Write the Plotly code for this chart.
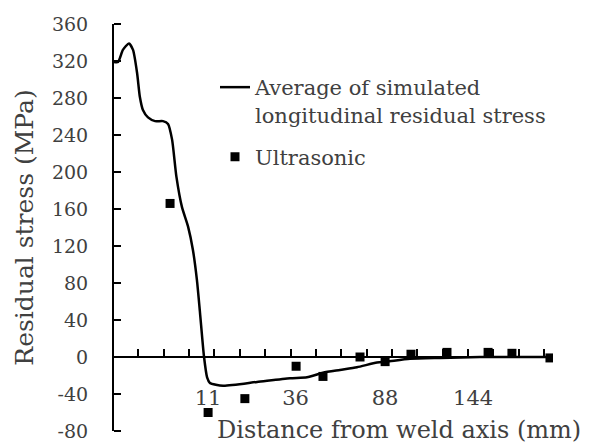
import plotly.graph_objects as go

# Simulated curve (x in axis-position units, y in MPa)
sim_x = [0.04, 0.2, 0.39, 0.63, 0.79, 0.95, 1.06, 1.18, 1.38, 1.66, 1.97, 2.17,
         2.33, 2.5, 2.72, 2.96, 3.15, 3.31, 3.43, 3.59, 3.71, 3.82, 4.34, 5.68,
         6.98, 7.65, 8.28, 8.95, 9.62, 10.41, 10.80, 11.71, 12.89, 14.47, 17.23]
sim_y = [319, 319, 332, 339, 332, 307, 281, 267, 259, 255, 255, 252,
         235, 195, 162, 141, 116, 83, 48, 0, -22, -28, -31, -27,
         -23, -22, -17, -14, -11, -6, -5, -2, -1, 0, 0]

# Ultrasonic measurements
ut_x = [2.25, 3.75, 5.2, 7.22, 8.28, 9.74, 10.73, 11.75, 13.17, 14.79, 15.73, 17.23]
ut_y = [166, -60, -45, -10, -21, 0, -5, 3, 5, 5, 4, -1]

# x tick labels (distance, mm) and their positions
x_label_pos = [3.75, 7.2, 10.73, 14.2]
x_labels = ["11", "36", "88", "144"]
x_minor_ticks = list(range(1, 18))

y_ticks = [-80, -40, 0, 40, 80, 120, 160, 200, 240, 280, 320, 360]
y_tick_labels = ["-80", "-40", "0", "40", "80", "120", "160", "200", "240", "280", "320", "360"]

FONT = "DejaVu Serif"
TXT = "#404040"

fig = go.Figure()
fig.add_trace(go.Scatter(
    x=sim_x, y=sim_y, mode="lines",
    line=dict(color="black", width=2.5, shape="spline", smoothing=0.6),
    name="Average of simulated<br>longitudinal residual stress",
    legendgroup="a",
))
fig.add_trace(go.Scatter(
    x=ut_x, y=ut_y, mode="markers",
    marker=dict(symbol="square", size=9, color="black"),
    name="Ultrasonic", legendgroup="b",
))
# empty helper trace so the tick-mark axis (y2) is drawn
fig.add_trace(go.Scatter(x=[], y=[], yaxis="y2", showlegend=False, hoverinfo="skip"))

# page body has an 8px margin: figure is sized/offset to fit the 594x443 window
fig.update_layout(
    width=586, height=435,
    margin=dict(l=105, r=41, t=16, b=12),
    plot_bgcolor="white", paper_bgcolor="white",
    font=dict(family=FONT, color=TXT),
    showlegend=True,
    legend=dict(
        x=(215 - 113) / 440, y=(431 - 67) / 407, xanchor="left", yanchor="top",
        font=dict(family=FONT, size=21, color=TXT),
        bgcolor="rgba(0,0,0,0)", valign="top", itemwidth=30,
        tracegroupgap=12,
    ),
    xaxis=dict(
        range=[0, 17.35], anchor="free", position=80 / 440, automargin=False,
        showline=True, linecolor="black", linewidth=2,
        showgrid=False, zeroline=False,
        tickmode="array", tickvals=x_label_pos, ticktext=x_labels,
        ticks="", ticklabelstandoff=22,
        tickfont=dict(family=FONT, size=21, color=TXT),
        minor=dict(tickmode="array", tickvals=x_minor_ticks, ticks="inside",
                   ticklen=7, tickwidth=2, tickcolor="black", showgrid=False),
    ),
    yaxis=dict(
        range=[-80, 360], anchor="free", position=0,
        showline=True, linecolor="black", linewidth=2,
        showgrid=False, zeroline=False, automargin=False,
        tickmode="array", tickvals=y_ticks, ticktext=y_tick_labels,
        ticks="", ticklabelstandoff=20,
        tickfont=dict(family=FONT, size=19, color=TXT),
        title=dict(text="Residual stress (MPa)", standoff=10,
                   font=dict(family=FONT, size=25, color=TXT)),
    ),
    yaxis2=dict(
        range=[-80, 360], overlaying="y", side="right", anchor="free", position=0,
        showline=False, showgrid=False, zeroline=False, automargin=False,
        tickmode="array", tickvals=y_ticks, showticklabels=False,
        ticks="outside", ticklen=7, tickwidth=2, tickcolor="black",
    ),
)

fig.add_annotation(
    text="Distance from weld axis (mm)", xref="paper", yref="paper",
    x=(399 - 113) / 440, y=(431 - 430) / 407, xanchor="center", yanchor="middle",
    showarrow=False, font=dict(family=FONT, size=24, color=TXT),
)

fig.write_html("out.html")
